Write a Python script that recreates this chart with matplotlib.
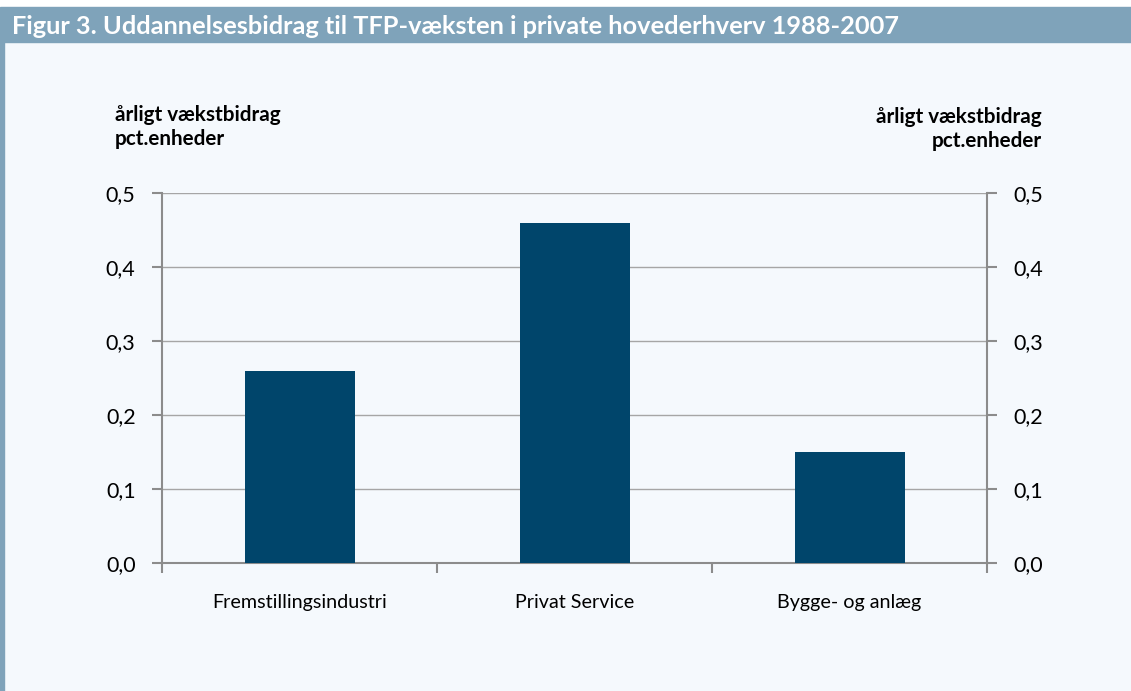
import matplotlib
matplotlib.use("Agg")
import matplotlib.pyplot as plt
import numpy as np

categories = ["Fremstillingsindustri", "Privat Service", "Bygge- og anlæg"]
values = [0.26, 0.46, 0.15]
yticks = [0.0, 0.1, 0.2, 0.3, 0.4, 0.5]
ytick_labels = ["0,0", "0,1", "0,2", "0,3", "0,4", "0,5"]
title = "Figur 3. Uddannelsesbidrag til TFP-væksten i private hovederhverv 1988-2007"
ylabel = "årligt vækstbidrag\npct.enheder"

plt.rcParams['font.family'] = ['Lato', 'DejaVu Sans']

W, H = 1131, 691
fig = plt.figure(figsize=(W/100, H/100), dpi=100)
bg = "#F5F9FD"
head = "#7FA3BA"
fig.patch.set_facecolor("white")

# background panel
fig.add_artist(plt.Rectangle((0, 0), 1, (H-42)/H, transform=fig.transFigure, color=bg, zorder=-10))
# header bar
fig.add_artist(plt.Rectangle((0, (H-42)/H), 1, 35/H, transform=fig.transFigure, color=head, zorder=-9))
# left border
fig.add_artist(plt.Rectangle((0, 0), 4/W, (H-42)/H, transform=fig.transFigure, color=head, zorder=-9))
fig.text(12/W, 1-26/H, title, color="white", fontsize=18.3, fontweight="bold", va="center", ha="left")

left, right, top, bottom = 162, 987, 193, 563
ax = fig.add_axes([left/W, 1-bottom/H, (right-left)/W, (bottom-top)/H])
ax.set_facecolor(bg)
x = np.arange(len(categories))
ax.bar(x, values, width=0.4, color="#00456B", zorder=3)
ax.set_xlim(-0.5, len(categories)-0.5)
ax.set_ylim(0, 0.5)
ax.set_yticks(yticks)
ax.set_yticklabels(ytick_labels, fontsize=15.5)
ax.yaxis.grid(True, color="#A6A6A6", linewidth=1, zorder=0)
ax.set_xticks(x)
ax.set_xticklabels(categories, fontsize=14.2)
ax.tick_params(axis="x", length=0, pad=22)
ax.set_xticks(np.arange(-0.5, len(categories)), minor=True)
ax.tick_params(axis="x", which="minor", length=7, color="#8C8C8C", width=1.5)
ax.tick_params(axis="y", length=7, color="#8C8C8C", width=1.5, pad=12, right=True, labelright=True)
for s in ["left", "right", "bottom"]:
    ax.spines[s].set_color("#8C8C8C")
    ax.spines[s].set_linewidth(1.5)
ax.spines["top"].set_visible(False)

fig.text(115/W, 1-127/H, ylabel, fontsize=14.9, fontweight="bold", ha="left", va="center", linespacing=1.3)
fig.text(1042/W, 1-129/H, ylabel, fontsize=14.9, fontweight="bold", ha="right", va="center", multialignment="right", linespacing=1.3)

fig.savefig("out.png", dpi=100, facecolor=fig.get_facecolor())
